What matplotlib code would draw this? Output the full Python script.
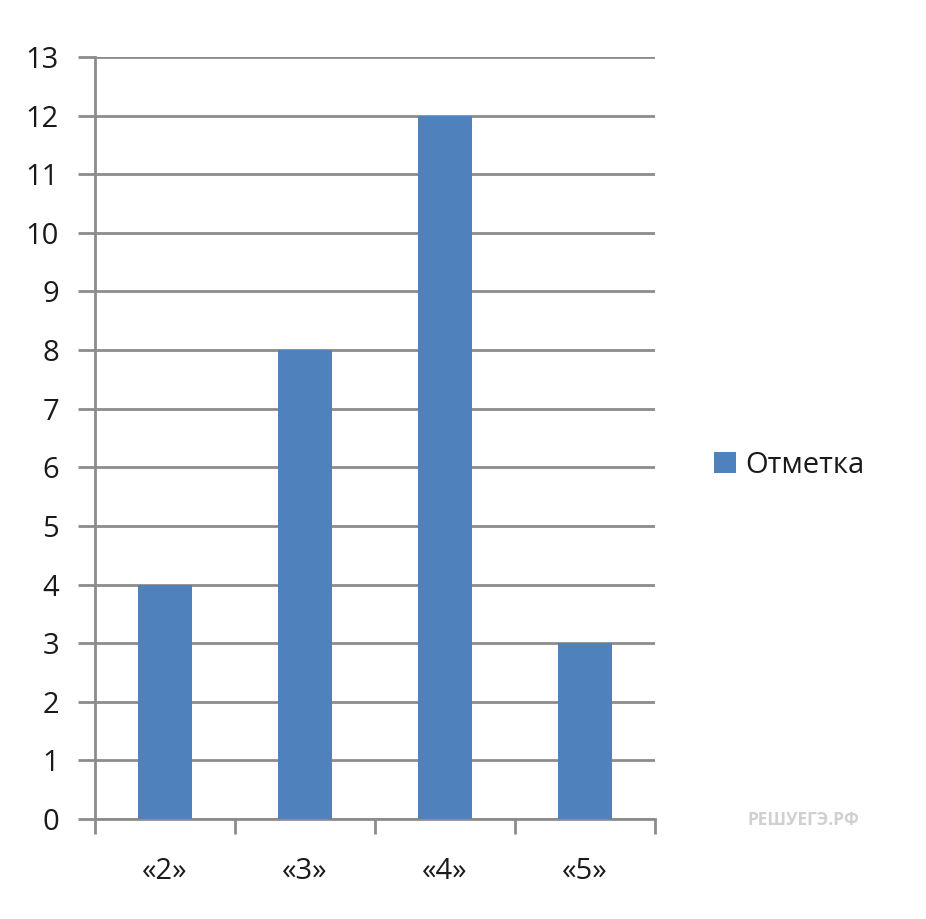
import matplotlib.pyplot as plt
import numpy as np

plt.rcParams['font.family'] = ['Open Sans', 'DejaVu Sans']

# data
categories = ['«2»', '«3»', '«4»', '«5»']
values = [4, 8, 12, 3]
y_ticks = list(range(0, 14))

bar_color = '#4F81BD'
grid_color = '#8C8C8C'

fig = plt.figure(figsize=(9.26, 9.19), dpi=100)
ax = fig.add_axes([0.1026, 0.1088, 0.6047, 0.8292])

x = np.arange(len(categories))
ax.bar(x, values, width=0.39, color=bar_color, zorder=3, label='Отметка')

ax.set_xlim(-0.5, len(categories) - 0.5)
ax.set_ylim(0, 13)
ax.set_yticks(y_ticks)
ax.yaxis.grid(True, color=grid_color, linewidth=2, zorder=0)

# x ticks sit on category boundaries, labels in the middle
ax.set_xticks(np.arange(-0.5, len(categories), 1.0))
ax.set_xticklabels([])
ax.set_xticks(x, minor=True)
ax.set_xticklabels(categories, minor=True)
ax.tick_params(axis='x', which='minor', length=0, pad=27, labelsize=21, labelcolor='#1A1A1A')
ax.tick_params(axis='x', which='major', length=11, width=2, color=grid_color, direction='out')
ax.tick_params(axis='y', length=12, width=2, color=grid_color, labelsize=21, pad=14,
               labelcolor='#1A1A1A')

for s in ['top', 'right']:
    ax.spines[s].set_visible(False)
for s in ['left', 'bottom']:
    ax.spines[s].set_color(grid_color)
    ax.spines[s].set_linewidth(2)

leg = fig.legend(loc='center left', bbox_to_anchor=(0.743, 0.494), frameon=False,
                 fontsize=21, handlelength=0.75, handleheight=0.75, handletextpad=0.3,
                 labelcolor='#1A1A1A')

fig.text(0.807, 0.108, 'РЕШУЕГЭ.РФ', fontsize=12.5, color='#D0D0D0', fontweight='bold',
         va='center', ha='left')

fig.savefig('out.png', dpi=100)
